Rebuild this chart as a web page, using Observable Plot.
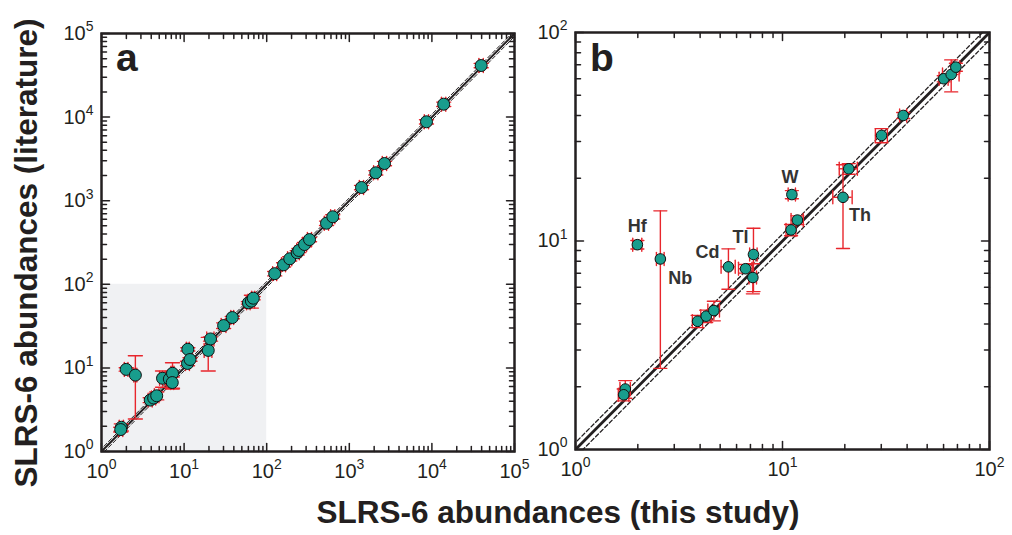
<!DOCTYPE html>
<html><head><meta charset="utf-8">
<script src="https://cdn.jsdelivr.net/npm/d3@7"></script>
<script src="https://cdn.jsdelivr.net/npm/@observablehq/plot@0.6"></script>
<style>
body{margin:0;background:#fff;}
#wrap{position:relative;width:1012px;height:535px;font-family:"Liberation Sans",Arial,sans-serif;color:#231f20;overflow:hidden;}
.panel{position:absolute;top:0;}
.ttl{position:absolute;font-weight:bold;font-size:31.5px;line-height:1;white-space:nowrap;}
#ytitle{left:27px;top:253px;transform:translate(-50%,-50%) rotate(-90deg);}
#xtitle{left:558px;top:497px;transform:translateX(-50%);}
.letter{position:absolute;font-weight:bold;font-size:39px;line-height:1;top:38px;}
</style></head>
<body>
<div id="wrap">
  <div id="pa" class="panel" style="left:0"></div>
  <div id="pb" class="panel" style="left:520px"></div>
  <div class="letter" style="left:116px">a</div>
  <div class="letter" style="left:590px">b</div>
  <div id="ytitle" class="ttl">SLRS-6 abundances (literature)</div>
  <div id="xtitle" class="ttl">SLRS-6 abundances (this study)</div>
</div>
<script>
// ---- data ----
const thisStudy  = [1.74, 1.71, 1.99, 2.57, 3.89, 4.28, 4.66, 5.48, 6.63, 7.24, 7.19, 11.1, 11.0, 11.8, 19.6, 20.9, 30.1, 38.3, 60.1, 65.3, 68.8,
                    125, 160, 190, 234, 245, 287, 330, 530, 631, 1406, 2094, 2669, 8600, 13900, 39500];
const literature = [1.95, 1.83, 9.6, 8.2, 4.12, 4.36, 4.64, 7.52, 7.36, 8.62, 6.68, 16.7, 11.3, 12.6, 16.2, 22.2, 32.1, 40.0, 60.0, 62.9, 68.2,
                    134, 171, 202, 238, 254, 299, 343, 538, 642, 1439, 2157, 2786, 8790, 14260, 41400];
const xErr = [0.10, 0.10, 0.10, 0.11, 0.22, 0.25, 0.30, 0.43, 0.50, 0.30, 0.30, 0.45, 0.60, 0.80, 2.1, 2.1, 2.0, 1.5, 3.0, 6.0, 3.0,
              7, 9, 11, 14, 14, 17, 19, 31, 37, 83, 125, 160, 510, 830, 2400];
const yErr = [0.19, 0.12, 0.45, 5.75, 0.28, 0.30, 0.50, 1.65, 0.35, 2.90, 1.10, 0.75, 0.70, 0.60, 7.0, 1.3, 2.5, 1.3, 2.0, 11.0, 3.0,
              8, 10, 12, 14, 15, 18, 20, 32, 38, 85, 130, 165, 520, 850, 2500];
const element = ["", "", "Hf", "Nb", "", "", "", "Cd", "", "Tl", "", "W", "", "", "Th", "", "", "", "", "", "",
                 "", "", "", "", "", "", "", "", "", "", "", "", "", "", ""];
const ticksA = [1, 10, 100, 1000, 10000, 100000];
const ticksB = [1, 10, 100];
const bandFactors = [0.92, 1, 1.08];
const zoomBox = [{x1: 1, x2: 100, y1: 1, y2: 100}];

// ---- drawing ----
const teal = "#189d8d", red = "#e8262c", ink = "#231f20";
const rows = thisStudy.map((x, i) => ({x, y: literature[i], xe: xErr[i], ye: yErr[i], el: element[i]}));
const lineShape = {draw(ctx, l) { ctx.moveTo(0, 0); ctx.lineTo(0, -l); }};

function superscripts(svg) {
  svg.querySelectorAll("text").forEach(t => {
    const m = /^10\^(\d+)$/.exec(t.textContent);
    if (!m) return;
    t.textContent = "10";
    const s = document.createElementNS("http://www.w3.org/2000/svg", "tspan");
    s.setAttribute("font-size", "14");
    s.setAttribute("dy", "-8.5");
    s.textContent = m[1];
    t.appendChild(s);
  });
}

function tickMarks(values, d0, d1, len) {
  const o = {length: len, anchor: "start", shape: lineShape, stroke: ink, strokeWidth: 1.5};
  return [
    Plot.vector(values, {x: d => d, y: () => d0, rotate: 0, ...o}),
    Plot.vector(values, {x: d => d, y: () => d1, rotate: 180, ...o}),
    Plot.vector(values, {x: () => d0, y: d => d, rotate: 90, ...o}),
    Plot.vector(values, {x: () => d1, y: d => d, rotate: -90, ...o})
  ];
}

function panel({domain, majors, data, width, margins, r, lineW, dashW, capW, shade, labels}) {
  const [d0, d1] = domain;
  const minors = d3.scaleLog().domain(domain).ticks().filter(v => !majors.includes(v));
  const fmt = d => "10^" + Math.round(Math.log10(d));
  const marks = [];
  if (shade) marks.push(Plot.rect(zoomBox, {x1: "x1", x2: "x2", y1: "y1", y2: "y2", fill: "#f0f1f3"}));
  for (const k of bandFactors) {
    marks.push(Plot.line([[d0 / 2, d0 / 2 * k], [d1 * 2, d1 * 2 * k]], {
      x: d => d[0], y: d => d[1], stroke: ink,
      strokeWidth: k === 1 ? lineW : dashW, strokeDasharray: k === 1 ? null : "4,2.5", clip: true
    }));
  }
  const eb = {stroke: red, strokeWidth: 1.4, clip: true};
  const cap = {length: capW, anchor: "middle", shape: lineShape, stroke: red, strokeWidth: 1.4};
  marks.push(
    Plot.ruleX(data, {x: "x", y1: d => d.y - d.ye, y2: d => d.y + d.ye, ...eb}),
    Plot.ruleY(data, {y: "y", x1: d => d.x - d.xe, x2: d => d.x + d.xe, ...eb}),
    Plot.vector(data, {x: "x", y: d => d.y + d.ye, rotate: 90, ...cap}),
    Plot.vector(data, {x: "x", y: d => d.y - d.ye, rotate: 90, ...cap}),
    Plot.vector(data, {x: d => d.x + d.xe, y: "y", rotate: 0, ...cap}),
    Plot.vector(data, {x: d => d.x - d.xe, y: "y", rotate: 0, ...cap}),
    Plot.dot(data, {x: "x", y: "y", r, fill: teal, stroke: "#111", strokeWidth: 1})
  );
  if (labels) {
    for (const [name, dx, dy] of labels) {
      marks.push(Plot.text(data.filter(d => d.el === name), {
        x: "x", y: "y", text: "el", dx, dy, fontSize: 18, fontWeight: "bold", fill: "#333"
      }));
    }
  }
  marks.push(
    ...tickMarks(minors, d0, d1, 5),
    ...tickMarks(majors, d0, d1, 8),
    Plot.frame({stroke: ink, strokeWidth: 2.5}),
    Plot.axisX(majors, {anchor: "bottom", tickSize: 0, tickPadding: 12, tickFormat: fmt, label: null, fill: ink, fontSize: 20}),
    Plot.axisY(majors, {anchor: "left", tickSize: 0, tickPadding: 8, tickFormat: fmt, label: null, fill: ink, fontSize: 20})
  );
  const svg = Plot.plot({
    width, height: 535,
    marginLeft: margins[0], marginRight: margins[1], marginTop: margins[2], marginBottom: margins[3],
    x: {type: "log", domain},
    y: {type: "log", domain},
    style: {background: "transparent", overflow: "visible", fontSize: "20px",
            fontFamily: "'Liberation Sans', Arial, sans-serif", color: ink},
    marks
  });
  superscripts(svg);
  return svg;
}

document.getElementById("pa").append(panel({
  domain: [1, 1e5], majors: ticksA, data: rows, width: 545, margins: [101, 31, 33, 84],
  r: 6, lineW: 2, dashW: 1, capW: 14, shade: true
}));
document.getElementById("pb").append(panel({
  domain: [1, 100], majors: ticksB, data: rows.filter(d => d.x <= 100), width: 492, margins: [55, 23, 32, 86],
  r: 5.3, lineW: 2.8, dashW: 1.3, capW: 13, shade: false,
  labels: [["Hf", 0, -18], ["Nb", 20, 19], ["Cd", -21, -15], ["Tl", -13, -17], ["W", -2, -17], ["Th", 17, 18]]
}));
</script>
</body></html>
